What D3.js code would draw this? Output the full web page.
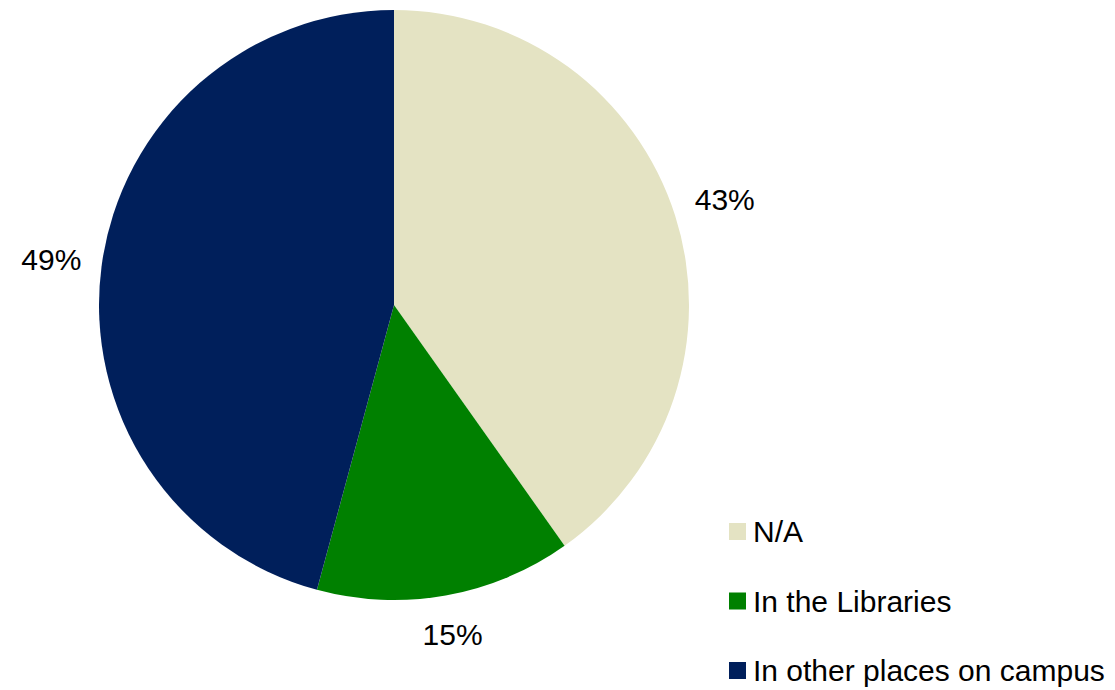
<!DOCTYPE html>
<html>
<head>
<meta charset="utf-8">
<script src="https://cdn.jsdelivr.net/npm/d3@7"></script>
<style>
  html, body { margin: 0; padding: 0; background: #ffffff; }
  svg { display: block; }
  text { font-family: "Liberation Sans", Arial, sans-serif; fill: #000; }
</style>
</head>
<body>
<svg id="chart" width="1115" height="690"></svg>
<script>
// Where respondents were, shares in percent
const categories = ["N/A", "In the Libraries", "In other places on campus"];
const values = [43, 15, 49];
const colors = ["#E4E3C3", "#008000", "#001F5B"];

const svg = d3.select("#chart");
const cx = 394, cy = 305, radius = 295;
const fontSize = 30, capHeight = 0.716 * fontSize;
const labelGap = 19, labelW = 60, labelH = 30;

const color = d3.scaleOrdinal().domain(categories).range(colors);

const pie = d3.pie().sort(null).value(d => d.value);
const data = categories.map((c, i) => ({ name: c, value: values[i] }));
const arcs = pie(data);

const arc = d3.arc().innerRadius(0).outerRadius(radius);

const g = svg.append("g").attr("transform", `translate(${cx},${cy})`);

g.selectAll("path.slice")
  .data(arcs)
  .join("path")
  .attr("class", "slice")
  .attr("d", arc)
  .attr("fill", d => color(d.data.name));

// Percent labels sit just outside the rim, their box pushed clear of the slice
function labelPos(d) {
  const a = (d.startAngle + d.endAngle) / 2;
  const s = Math.sin(a), c = -Math.cos(a);
  const r = radius + labelGap + (labelW / 2) * Math.abs(s) + (labelH / 2) * Math.abs(c);
  return [r * s, r * c];
}

g.selectAll("text.pct")
  .data(arcs)
  .join("text")
  .attr("class", "pct")
  .attr("transform", d => {
    const [x, y] = labelPos(d);
    return `translate(${x},${y + capHeight / 2})`;
  })
  .attr("text-anchor", "middle")
  .style("font-size", fontSize + "px")
  .text(d => d.data.value + "%");

// Legend
const legend = svg.append("g").attr("transform", "translate(729,523)");
const rowGap = 69.5;
const item = legend.selectAll("g.item")
  .data(categories)
  .join("g")
  .attr("class", "item")
  .attr("transform", (d, i) => `translate(0,${i * rowGap})`);

item.append("rect")
  .attr("width", 17)
  .attr("height", 17)
  .attr("fill", d => color(d));

item.append("text")
  .attr("x", 24)
  .attr("y", 19)
  .style("font-size", fontSize + "px")
  .text(d => d);
</script>
</body>
</html>
